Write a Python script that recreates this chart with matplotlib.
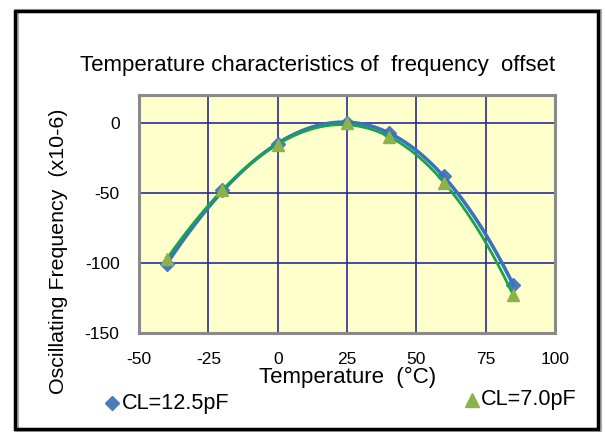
import numpy as np
import matplotlib.pyplot as plt
from matplotlib.patches import Rectangle
from matplotlib.lines import Line2D

plt.rcParams['font.family'] = ['Liberation Sans', 'DejaVu Sans']
plt.rcParams['axes.unicode_minus'] = False

# data
temps = [-40, -20, 0, 25, 40, 60, 85]
cl_125 = [-101, -48, -15, 0, -7, -38, -116]
cl_70 = [-97, -48, -16, 0, -10, -43, -123]

x_ticks = [-50, -25, 0, 25, 50, 75, 100]
y_ticks = [-150, -100, -50, 0]

blue = '#3a72c0'
green = '#18a34e'
tri_col = '#8cb24a'
dia_col = '#4a7bbd'

fig = plt.figure(figsize=(6.05, 4.32), dpi=100)
ax = fig.add_axes([0.2298, 0.2292, 0.6876, 0.551])
ax.set_facecolor('#ffffcc')

# smooth trend curves (cubic fit of each series)
xs = np.linspace(temps[0], temps[-1], 200)
fit_b = np.polyval(np.polyfit(temps, cl_125, 3), xs)
fit_g = np.polyval(np.polyfit(temps, cl_70, 3), xs)

ax.plot(temps, cl_125, linestyle='none', marker='D', ms=7, color=dia_col, zorder=3)
ax.plot(xs, fit_b, color=blue, lw=2.6, zorder=4)
ax.plot(xs, fit_g, color=green, lw=2.0, zorder=5)
ax.plot(temps, cl_70, linestyle='none', marker='^', ms=9, color=tri_col, zorder=6)

ax.set_xlim(-50, 100)
ax.set_ylim(-150, 20)
ax.set_xticks(x_ticks)
ax.set_yticks(y_ticks)
ax.grid(True, color='#2a2a9a', lw=1.2)
ax.set_axisbelow(True)
ax.tick_params(length=0, labelsize=12.5, pad=14)
for s in ax.spines.values():
    s.set_color('#8a8a8a')
    s.set_linewidth(2.2)

fig.text(348 / 605, 1 - 377 / 432, 'Temperature  (°C)', fontsize=16,
         ha='center', va='center')
fig.text(58 / 605, 1 - 251 / 432, 'Oscillating Frequency  (x10-6)', fontsize=15.4,
         ha='center', va='center', rotation=90)
fig.text(318 / 605, 1 - 65 / 432, 'Temperature characteristics of  frequency  offset',
         ha='center', va='center', fontsize=16)

# legend entries, split left and right like the original
fig.add_artist(Line2D([112 / 605], [1 - 403 / 432], marker='D', ms=7, color=dia_col,
                      linestyle='none', transform=fig.transFigure))
fig.text(122 / 605, 1 - 403 / 432, 'CL=12.5pF', fontsize=15.6, va='center')
fig.add_artist(Line2D([472 / 605], [1 - 400 / 432], marker='^', ms=10, color=tri_col,
                      linestyle='none', transform=fig.transFigure))
fig.text(481 / 605, 1 - 400 / 432, 'CL=7.0pF', fontsize=15.6, va='center')

# outer frame with a light shadow
fig.add_artist(Rectangle((17 / 605, 2 / 432), 583 / 605, 419 / 432, fill=False,
                         ec='#b0b0b0', lw=3, transform=fig.transFigure))
fig.add_artist(Rectangle((15 / 605, 3 / 432), 583 / 605, 418 / 432, fill=False,
                         ec='black', lw=2.5, transform=fig.transFigure))

fig.savefig('out.png', dpi=100)
